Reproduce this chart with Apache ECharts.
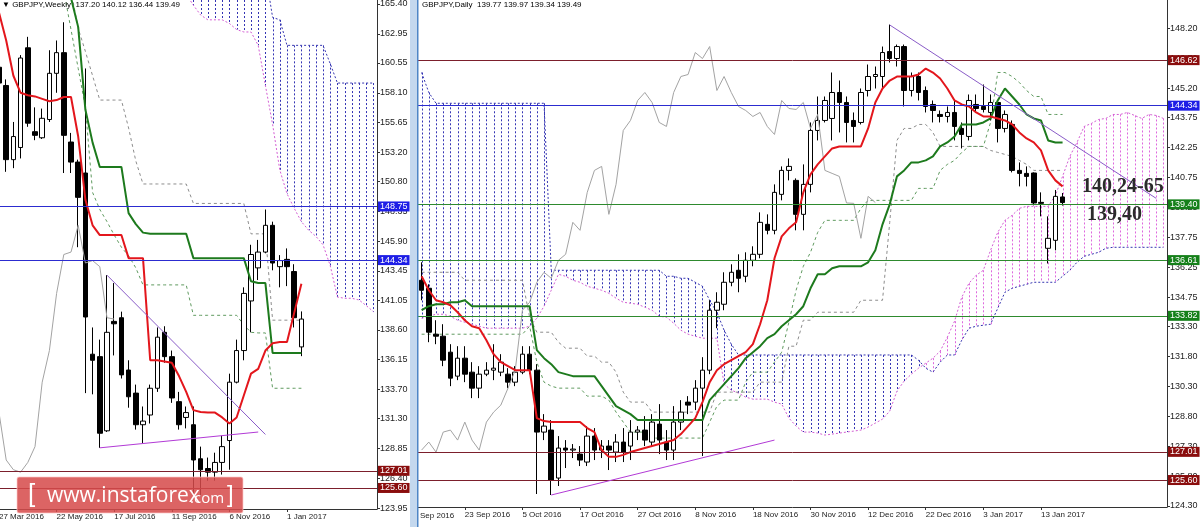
<!DOCTYPE html>
<html><head><meta charset="utf-8">
<script src="https://cdn.jsdelivr.net/npm/echarts@6/dist/echarts.min.js"></script>
<style>html,body{margin:0;padding:0;background:#fff;}#c{width:1200px;height:527px;}</style>
</head><body><div id="c"></div>
<script>
// ---------------- WEEKLY (left panel) ----------------
const weeklyHeader = ['137.20', '140.12', '136.44', '139.49'];
const weeklyTickLabels = ['27 Mar 2016', '22 May 2016', '17 Jul 2016', '11 Sep 2016', '6 Nov 2016', '1 Jan 2017'];
const weeklyPriceTicks = [165.40,162.95,160.55,158.10,155.65,153.20,150.80,148.35,145.90,143.45,141.05,138.60,136.15,133.70,131.30,128.85,126.40,123.95];
const wOpen = [160.2,158.7,152.6,153.6,161.8,154.9,154.4,155.9,159.7,161.4,154.05,152.4,151.5,136.6,136.4,130.3,139.3,139.6,135.3,133.4,130.8,131.6,133.8,138.4,136.4,132.7,131.4,130.8,128.0,127.2,126.9,127.7,129.5,134.3,136.9,140.98,143.7,145.0,147.2,143.8,144.4,143.4,137.2];
const wClose = [158.9,152.6,154.5,160.96,155.6,154.6,156.0,159.7,161.4,154.6,152.4,149.5,139.66,136.1,130.1,138.4,139.1,134.9,133.1,130.8,131.1,133.8,138.0,136.4,133.0,130.8,131.8,127.9,127.1,126.9,127.7,129.0,134.3,136.9,141.6,144.8,145.0,147.2,144.1,144.3,143.8,139.6,139.49];
const wHigh = [161.0,159.2,155.7,161.2,162.7,156.9,156.8,161.6,162.4,163.9,154.8,152.6,160.1,138.8,137.8,143.1,142.45,140.1,136.1,134.1,132.3,134.1,138.8,138.9,136.9,133.5,132.3,132.3,129.0,128.1,128.5,129.9,135.0,137.8,142.1,145.6,146.0,148.5,147.5,144.75,145.3,144.0,140.12];
const wLow = [158.4,151.6,151.9,152.7,155.3,154.2,154.3,155.7,158.1,151.5,151.5,145.4,133.4,133.3,128.9,130.2,136.5,134.6,132.2,130.4,129.3,130.9,133.5,135.9,132.6,130.4,130.5,124.9,124.85,126.2,126.2,126.7,127.1,134.2,136.1,138.4,142.7,144.9,143.5,142.1,142.2,138.8,136.44];
const wTenkan = [164.7,162.4,159.5,158.1,157.9,157.8,157.6,157.4,157.5,157.75,157.75,154.5,149.3,147.2,146.4,146.4,146.4,146.4,144.5,144.5,144.5,136.1,136.1,136.0,135.9,134.8,133.5,132.0,131.85,131.8,131.8,131.4,130.9,131.4,133.2,135.0,135.4,136.9,137.5,137.6,137.6,140.0,142.4];
const wKijun = [166.5,166.5,166.5,166.5,166.5,166.5,166.5,166.5,166.5,166.5,165.9,163.5,156.7,154.0,152.0,152.0,152.0,152.0,148.2,147.3,146.6,146.5,146.5,146.5,146.5,146.5,146.5,144.5,144.5,144.5,144.5,144.5,144.5,144.5,144.5,142.6,142.45,142.45,136.7,136.7,136.7,136.7,136.7];
const wDashUpper = [null,null,null,null,null,null,null,null,null,null,166.5,163.4,161.5,159.5,157.5,157.5,157.5,157.5,155.2,152.5,150.6,150.6,150.6,150.6,150.6,150.6,150.6,149.0,149.0,149.0,149.0,149.0,149.0,149.0,149.0,146.5,146.5,146.5,139.4,139.4,139.4,139.4,139.4];
const wDashLower = [null,null,null,null,null,null,null,null,null,166.5,163.3,160.1,156.9,149.9,148.5,147.5,146.4,145.4,144.7,143.7,142.3,142.3,142.3,142.3,142.3,142.3,142.3,139.8,139.8,139.8,139.8,139.8,139.8,139.8,139.0,138.4,138.35,138.35,133.8,133.8,133.8,133.8,133.8];
const wCloudStart = 26;
const wSpanA = [166.2,165.3,164.5,164.1,164.1,164.1,163.8,163.3,163.1,163.1,162.0,158.7,155.5,151.75,149.8,148.6,147.5,146.8,146.3,145.6,143.9,141.3,141.2,141.2,141.06,140.6,140.1];
const wSpanB = [168.0,168.0,168.0,168.0,168.0,168.0,168.0,168.0,168.0,168.0,168.0,168.0,164.3,164.1,162.0,162.0,162.0,162.0,162.0,162.0,160.5,158.9,158.9,158.9,158.9,158.9,158.9];
const wTrendUpper = [[15, 143.1], [37, 130.0]];
const wTrendLower = [[14, 128.9], [36, 130.2]];
const wBlueLevels = [148.75, 144.34];
const wRedLevels = [127.01, 125.60];
const wLastPrice = 139.49;

// ---------------- DAILY (right panel) ----------------
const dailyHeader = ['139.77', '139.97', '139.34', '139.49'];
const dailyTickLabels = ['23 Sep 2016','5 Oct 2016','17 Oct 2016','27 Oct 2016','8 Nov 2016','18 Nov 2016','30 Nov 2016','12 Dec 2016','22 Dec 2016','3 Jan 2017','13 Jan 2017'];
const dailyCutLabel = 'Sep 2016';
const dailyPriceTicks = [148.20,146.70,145.20,143.75,142.25,140.75,139.25,137.75,136.25,134.75,133.30,131.80,130.30,128.80,127.30,125.80,124.30];
const dOpen = [135.6,135.2,132.9,132.8,132.0,130.8,131.7,131.0,130.2,130.9,
131.1,131.0,130.9,130.5,131.0,131.9,131.1,128.0,128.1,125.7,
127.2,127.1,126.9,126.5,127.8,127.1,127.3,127.0,127.5,127.3,
128.0,128.1,127.5,128.4,127.5,127.1,128.5,129.5,129.5,130.2,
131.1,134.1,134.4,135.5,136.1,135.8,136.6,136.9,138.4,138.1,
139.9,141.1,140.6,138.9,140.4,143.1,143.6,143.7,145.0,144.5,
143.6,143.5,145.1,145.8,145.8,147.05,146.7,147.3,145.1,145.8,
145.1,144.4,143.9,143.8,144.0,143.2,142.8,144.4,144.3,144.0,
144.5,143.2,143.4,141.1,140.95,140.97,139.5,137.2,137.6,139.77];
const dClose = [135.1,133.0,132.8,131.6,130.7,131.7,130.9,130.2,130.9,131.1,
131.2,131.5,130.5,131.0,131.9,131.1,128.0,128.3,125.6,127.2,
127.1,127.15,126.6,127.8,127.1,127.3,127.1,127.5,127.0,128.0,
128.1,127.6,128.5,127.6,127.1,128.5,129.0,129.35,130.2,131.1,
134.1,134.5,135.5,136.0,135.7,136.6,136.9,138.5,138.1,140.0,
141.1,141.3,138.9,140.4,143.1,143.6,144.6,145.0,144.5,143.5,
143.3,145.0,145.8,145.9,147.0,146.7,147.3,145.1,145.8,145.0,
144.3,144.1,143.8,144.0,143.3,142.9,144.6,144.2,144.15,144.5,
143.2,143.9,141.1,140.95,140.8,139.47,139.45,137.7,139.8,139.49];
const dHigh = [136.5,135.4,133.6,133.4,132.4,132.3,132.3,131.5,131.3,131.5,
132.4,131.9,131.2,131.3,132.3,132.3,131.4,128.9,128.6,127.8,
127.6,127.4,127.3,128.3,128.2,127.6,127.6,127.9,128.2,128.6,
128.3,128.8,128.9,129.4,128.1,129.3,129.6,129.8,130.6,131.75,
134.6,135.0,136.0,136.4,136.9,137.0,137.3,139.0,138.9,140.4,
141.3,141.7,140.7,141.4,143.5,144.8,144.8,146.0,145.6,144.8,
144.0,145.2,146.4,146.3,147.3,148.4,147.4,147.4,146.0,146.0,
145.3,144.6,144.1,144.3,144.6,143.5,144.9,144.9,145.4,144.9,
144.6,144.1,143.6,141.5,141.3,141.0,140.0,138.8,140.12,139.97];
const dLow = [134.6,132.5,132.4,131.3,130.3,130.6,130.5,129.7,129.7,130.8,
130.6,130.8,130.2,130.3,130.9,130.9,124.9,127.6,124.85,125.3,
126.2,126.7,126.3,126.3,126.6,126.7,126.1,126.5,126.5,126.6,
127.6,127.3,127.3,126.9,126.6,126.6,128.1,128.9,129.1,126.8,
130.9,133.2,134.1,135.3,135.0,135.5,136.3,136.7,137.9,137.9,
139.6,140.6,138.1,138.1,140.0,142.6,143.5,142.6,143.0,142.5,
142.5,143.4,144.8,145.2,145.2,146.5,146.3,144.3,144.8,144.6,
144.0,143.5,143.5,143.5,142.6,142.2,142.6,144.0,144.0,143.6,
142.5,143.0,141.0,140.3,140.3,139.35,138.8,136.44,137.1,139.34];
const dTenkan = [135.8,135.1,134.6,134.5,134.35,134.0,133.6,133.3,133.2,132.6,
131.9,131.5,131.3,131.1,131.1,131.1,128.7,128.55,128.5,128.5,
128.5,128.5,128.5,128.2,128.0,127.1,126.76,126.76,126.86,127.0,
127.1,127.2,127.3,127.4,127.5,127.6,127.9,128.3,128.7,129.5,
130.5,131.1,131.4,131.6,131.8,132.0,132.4,133.4,134.6,136.7,
137.8,138.2,138.5,140.0,140.9,141.4,141.8,142.2,142.3,142.3,
142.3,142.3,143.2,144.5,145.2,145.6,145.8,145.8,145.8,145.9,
146.2,146.0,145.7,145.2,144.6,144.4,144.3,144.0,143.8,143.8,
143.7,143.6,143.4,143.0,142.7,142.5,142.1,141.1,140.6,140.3];
const dKijun = [134.1,134.3,134.4,134.4,134.5,134.5,134.6,134.3,134.3,134.3,
134.3,134.3,134.3,134.3,134.3,134.3,132.1,131.7,131.4,131.0,
130.9,130.8,130.8,130.8,130.8,130.3,129.8,129.3,129.1,128.9,
128.6,128.6,128.6,128.6,128.6,128.6,128.6,128.6,128.6,128.6,
129.6,130.0,130.4,130.8,131.2,131.7,132.0,132.3,132.7,132.9,
133.3,133.6,133.9,134.3,135.2,135.9,135.9,136.2,136.3,136.3,
136.3,136.3,136.5,137.1,138.4,139.4,140.8,141.1,141.5,141.5,
141.6,141.8,142.3,142.5,142.8,143.4,143.4,143.4,143.5,143.7,
144.6,145.2,144.8,144.4,143.9,143.7,143.6,142.6,142.5,142.5];
const dDashUpper = [136.0,136.0,136.0,136.0,136.0,136.0,135.6,135.6,135.6,135.6,
135.6,135.6,135.6,135.6,135.6,133.75,133.0,133.0,133.0,132.5,
132.2,132.2,132.2,131.8,131.8,131.5,131.5,131.0,130.0,129.5,
129.5,129.5,129.0,129.0,129.0,129.0,129.0,129.0,129.0,129.0,
129.0,130.0,130.0,130.0,130.0,130.0,130.0,130.5,130.5,130.5,
130.5,132.3,132.3,133.6,133.6,134.0,134.0,134.0,134.0,134.0,
134.0,134.6,134.6,134.6,134.6,138.5,142.6,143.2,143.2,143.4,
143.4,143.0,142.3,142.3,142.3,142.3,142.3,142.3,142.3,142.1,
142.0,141.9,141.8,141.6,141.4,141.1,141.1,141.1,141.1,141.1];
const dDashLower = [132.9,132.9,132.9,132.9,132.9,132.9,132.9,132.9,132.9,132.9,
132.9,132.9,132.9,132.9,132.9,133.3,131.5,130.5,130.3,130.2,
130.2,130.2,130.2,129.8,129.8,129.8,129.6,129.0,128.5,128.0,
128.0,128.0,127.7,127.7,127.7,127.7,127.7,127.7,127.7,127.7,
128.5,129.3,129.6,129.6,129.6,130.5,131.0,131.0,131.0,131.5,
132.0,133.5,135.1,136.3,137.0,138.0,138.6,138.6,138.6,138.6,
138.6,139.2,139.6,139.6,139.6,139.6,139.6,139.6,139.6,140.2,
140.2,140.2,141.1,141.4,141.6,142.0,142.3,142.3,142.3,143.5,
146.0,146.0,145.8,145.5,145.1,144.8,144.8,143.9,143.9,143.9];
const dSpanA = [133.7,133.8,133.9,133.9,133.8,133.6,133.5,133.4,133.3,133.2,
133.2,133.2,133.2,133.2,133.2,133.3,133.7,134.3,135.1,135.9,
135.8,135.6,135.5,135.3,135.2,135.1,134.95,134.7,134.5,134.45,
134.4,134.25,134.1,133.8,133.75,133.45,133.1,132.9,132.8,132.7,
132.7,132.7,130.4,130.1,129.95,129.75,129.65,129.65,129.65,129.5,
129.4,128.7,128.3,128.0,128.0,127.95,127.85,127.9,127.95,128.0,
128.05,128.1,128.25,128.45,128.65,129.05,130.05,130.55,130.9,131.2,
131.45,131.7,132.05,132.75,133.55,134.75,135.45,135.85,136.1,137.1,
138.0,138.6,138.85,139.2,139.3,139.3,139.3,139.3,139.85,140.8,
141.8,142.5,143.3,143.45,143.65,143.7,143.9,143.9,144.0,143.85,
143.7,143.9,143.85,143.7];
const dSpanB = [146.0,145.0,144.46,144.46,144.46,144.46,144.46,144.46,144.46,144.46,
144.46,144.46,144.46,144.46,144.46,144.46,144.46,144.46,136.1,136.1,
136.1,136.1,136.1,136.1,136.1,136.1,136.1,136.1,136.1,136.1,
136.1,136.1,136.1,136.1,135.8,135.8,135.7,135.7,135.5,135.3,
134.6,134.0,133.1,132.4,131.86,131.86,131.86,131.86,131.86,131.86,
131.86,131.86,131.86,131.86,131.86,131.86,131.86,131.86,131.86,131.86,
131.86,131.86,131.86,131.86,131.86,131.86,131.86,131.86,131.86,131.6,
131.2,131.0,131.5,131.86,131.86,132.6,133.2,133.3,133.35,133.4,
134.2,135.0,135.2,135.3,135.4,135.5,135.5,135.5,135.5,135.8,
136.1,136.5,136.8,136.9,137.0,137.2,137.25,137.25,137.25,137.25,
137.25,137.25,137.25,137.25];
const dTrendUpper = [[65, 148.38], [102, 139.7]];
const dTrendLower = [[18, 124.85], [49, 127.6]];
const dRedLevels = [146.62, 127.01, 125.60];
const dBlueLevels = [144.34];
const dGreenLevels = [139.40, 136.61, 133.82];
const dNotes = ['140,24-65', '139,40'];

// ---------------- helpers ----------------
const MONTHS = ['Jan','Feb','Mar','Apr','May','Jun','Jul','Aug','Sep','Oct','Nov','Dec'];
const fmtDate = d => d.getUTCDate() + ' ' + MONTHS[d.getUTCMonth()] + ' ' + d.getUTCFullYear();
const weeklyCategories = [];
for (let i = 0; i < 53; i++) weeklyCategories.push(fmtDate(new Date(Date.UTC(2016, 2, 27 + 7 * i))));
const dailyCategories = [];
{ let t = Date.UTC(2016, 8, 15);
  while (dailyCategories.length < 104) { const d = new Date(t); const wd = d.getUTCDay(); if (wd !== 0 && wd !== 6) dailyCategories.push(fmtDate(d)); t += 86400000; } }

const FONT = 'Liberation Sans, Arial, sans-serif';
const C = { red: '#e3161c', green: '#1d7a1d', chikou: '#a3a3a3', spanA: '#d35ed3', spanB: '#3535b0',
  hatchBlue: '#3434b4', hatchPink: '#de68de', dashGray: '#8d8d8d', dashGreen: '#5f9a5f',
  trendUp: '#8a5cc8', trendLow: '#b23ad6', lvlBlue: '#2c2cd0', lvlRed: '#7c1f2c', lvlGreen: '#2e8a2e',
  tagBlue: '#1e1ee6', tagRed: '#8a0d0d', tagGreen: '#15801a' };

function lineS(gi, data, color, width, type, z) {
  return { type: 'line', xAxisIndex: gi, yAxisIndex: gi, data, symbol: 'none', showSymbol: false,
    connectNulls: false, silent: true, animation: false, z, lineStyle: { color, width, type } };
}
function hatchRender(params, api) {
  const x = api.value(0), a = api.value(1), b = api.value(2);
  if (isNaN(a) || isNaN(b)) return null;
  const pa = api.coord([x, a]), pb = api.coord([x, b]);
  const cs = params.coordSys;
  const y1 = Math.max(cs.y, Math.min(pa[1], pb[1]));
  const y2 = Math.min(cs.y + cs.height, Math.max(pa[1], pb[1]));
  if (y2 <= y1) return null;
  const px = Math.round(pa[0]) + 0.5;
  return { type: 'line', shape: { x1: px, y1: y1, x2: px, y2: y2 },
    style: { stroke: a > b ? C.hatchPink : C.hatchBlue, lineWidth: 1, lineDash: [2, 2] } };
}
function hatchS(gi, data) {
  return { type: 'custom', xAxisIndex: gi, yAxisIndex: gi, data, encode: { x: 0, y: [1, 2] },
    renderItem: hatchRender, z: 1, silent: true, animation: false };
}
function levelItem(v, lineColor, tagColor, hideLine) {
  return { yAxis: v, lineStyle: { color: lineColor, width: 1, type: 'solid', opacity: hideLine ? 0 : 1 },
    label: { show: true, position: 'end', distance: 1, formatter: v.toFixed(2), color: '#fff',
      backgroundColor: tagColor, padding: [1, 2, 0, 2], fontSize: 9, fontFamily: FONT } };
}
function candleS(gi, o, c, l, h, levels) {
  return { type: 'candlestick', xAxisIndex: gi, yAxisIndex: gi, barWidth: 5, z: 3, silent: true, animation: false,
    data: o.map((v, k) => [v, c[k], l[k], h[k]]),
    itemStyle: { color: '#ffffff', color0: '#000000', borderColor: '#000000', borderColor0: '#000000', borderWidth: 1 },
    markLine: { symbol: ['none', 'none'], silent: true, animation: false, data: levels } };
}
function xAxisCfg(gi, cats, labels) {
  const show = (i, v) => labels.indexOf(v) >= 0;
  return { type: 'category', gridIndex: gi, data: cats, boundaryGap: true,
    axisLine: { show: true, lineStyle: { color: '#333', width: 1 } },
    axisTick: { show: true, alignWithLabel: true, interval: show, length: 3, lineStyle: { color: '#333' } },
    axisLabel: { interval: show, align: 'left', margin: 4, fontSize: 8, color: '#222', fontFamily: FONT },
    splitLine: { show: false } };
}
function yAxisCfg(gi, min, max, ticks) {
  return { type: 'value', gridIndex: gi, position: 'right', min, max,
    axisLine: { show: true, lineStyle: { color: '#333', width: 1 } },
    axisTick: { show: true, length: 3, customValues: ticks, lineStyle: { color: '#333' } },
    axisLabel: { customValues: ticks, formatter: v => v.toFixed(2), fontSize: 9, margin: 3, color: '#222', fontFamily: FONT },
    splitLine: { show: false } };
}

// ---------------- assemble ----------------
const wCloud = [];
wSpanA.forEach((a, j) => wCloud.push([wCloudStart + j, a, wSpanB[j]]));
const wSpanAFull = Array(wCloudStart).fill(null).concat(wSpanA);
const wSpanBFull = Array(wCloudStart).fill(null).concat(wSpanB);
const dCloud = dSpanA.map((a, k) => [k, a, dSpanB[k]]);

const wLevels = wBlueLevels.map(v => levelItem(v, C.lvlBlue, C.tagBlue))
  .concat(wRedLevels.map(v => levelItem(v, C.lvlRed, C.tagRed)))
  .concat([levelItem(wLastPrice, '#000', '#000000', true)]);
const dLevels = dRedLevels.map(v => levelItem(v, C.lvlRed, C.tagRed))
  .concat(dBlueLevels.map(v => levelItem(v, C.lvlBlue, C.tagBlue)))
  .concat(dGreenLevels.map(v => levelItem(v, C.lvlGreen, C.tagGreen)));

const option = {
  animation: false,
  backgroundColor: '#ffffff',
  grid: [
    { left: -4.6, top: 0, width: 381.6, height: 509, outerBoundsMode: 'none' },
    { left: 418, top: 0, width: 749, height: 507, outerBoundsMode: 'none' }
  ],
  xAxis: [xAxisCfg(0, weeklyCategories, weeklyTickLabels), xAxisCfg(1, dailyCategories, dailyTickLabels)],
  yAxis: [yAxisCfg(0, 123.87, 165.73, weeklyPriceTicks), yAxisCfg(1, 124.25, 149.63, dailyPriceTicks)],
  series: [
    hatchS(0, wCloud),
    lineS(0, wSpanAFull, C.spanA, 1, [2, 2], 2),
    lineS(0, wSpanBFull, C.spanB, 1, [2, 2], 2),
    lineS(0, wDashUpper, C.dashGray, 1, [3, 3], 2),
    lineS(0, wDashLower, C.dashGreen, 1, [3, 3], 2),
    candleS(0, wOpen, wClose, wLow, wHigh, wLevels),
    lineS(0, wClose.slice(26), C.chikou, 1, 'solid', 4),
    lineS(0, wKijun, C.green, 2, 'solid', 4),
    lineS(0, wTenkan, C.red, 2, 'solid', 4),
    lineS(0, wTrendUpper, C.trendUp, 1, 'solid', 5),
    lineS(0, wTrendLower, C.trendLow, 1, 'solid', 5),

    hatchS(1, dCloud),
    lineS(1, dSpanA, C.spanA, 1, [2, 2], 2),
    lineS(1, dSpanB, C.spanB, 1, [2, 2], 2),
    lineS(1, dDashUpper, C.dashGray, 1, [3, 3], 2),
    lineS(1, dDashLower, C.dashGreen, 1, [3, 3], 2),
    candleS(1, dOpen, dClose, dLow, dHigh, dLevels),
    lineS(1, dClose.slice(26), C.chikou, 1, 'solid', 4),
    lineS(1, dKijun, C.green, 2, 'solid', 4),
    lineS(1, dTenkan, C.red, 2, 'solid', 4),
    lineS(1, dTrendUpper, C.trendUp, 1, 'solid', 5),
    lineS(1, dTrendLower, C.trendLow, 1, 'solid', 5)
  ],
  graphic: { elements: [
    { type: 'rect', z: 100, shape: { x: 410, y: 0, width: 7, height: 527 }, style: { fill: '#c4d8ee' } },
    { type: 'rect', z: 100, shape: { x: 417, y: 0, width: 1.5, height: 527 }, style: { fill: '#4f86c6' } },
    { type: 'text', z: 100, x: 2, y: 1, style: { text: '\u25BC GBPJPY,Weekly  ' + weeklyHeader.join(' '), fontSize: 8, fontFamily: FONT, fill: '#000' } },
    { type: 'text', z: 100, x: 422, y: 1, style: { text: 'GBPJPY,Daily  ' + dailyHeader.join(' '), fontSize: 8, fontFamily: FONT, fill: '#000' } },
    { type: 'text', z: 100, x: 420, y: 512, style: { text: dailyCutLabel, fontSize: 8, fontFamily: FONT, fill: '#222' } },
    { type: 'text', z: 100, x: 1082, y: 187, style: { text: dNotes[0], font: 'bold 20px "Liberation Serif", "Times New Roman", serif', fill: '#2b2b2b', verticalAlign: 'middle' } },
    { type: 'text', z: 100, x: 1087, y: 215, style: { text: dNotes[1], font: 'bold 20px "Liberation Serif", "Times New Roman", serif', fill: '#2b2b2b', verticalAlign: 'middle' } },
    { type: 'rect', z: 101, shape: { x: 17, y: 477, width: 226, height: 36, r: 2 }, style: { fill: 'rgba(214,74,74,0.86)', stroke: 'rgba(255,200,200,0.7)', lineWidth: 1 } },
    { type: 'text', z: 102, x: 28, y: 495, style: { text: '[', font: '26px "Liberation Sans", Arial, sans-serif', fill: '#fff', verticalAlign: 'middle' } },
    { type: 'text', z: 102, x: 47, y: 496, style: { text: 'www.instaforex', font: '21px "Open Sans", "Liberation Sans", sans-serif', fill: '#fff', verticalAlign: 'middle' } },
    { type: 'text', z: 102, x: 190, y: 499, style: { text: '.com', font: '15px "Open Sans", "Liberation Sans", sans-serif', fill: '#fff', verticalAlign: 'middle' } },
    { type: 'text', z: 102, x: 227, y: 495, style: { text: ']', font: '24px "Liberation Sans", Arial, sans-serif', fill: '#fff', verticalAlign: 'middle' } }
  ] }
};
const chart = echarts.init(document.getElementById('c'), null, { renderer: 'canvas', width: 1200, height: 527 });
chart.setOption(option);
</script></body></html>
